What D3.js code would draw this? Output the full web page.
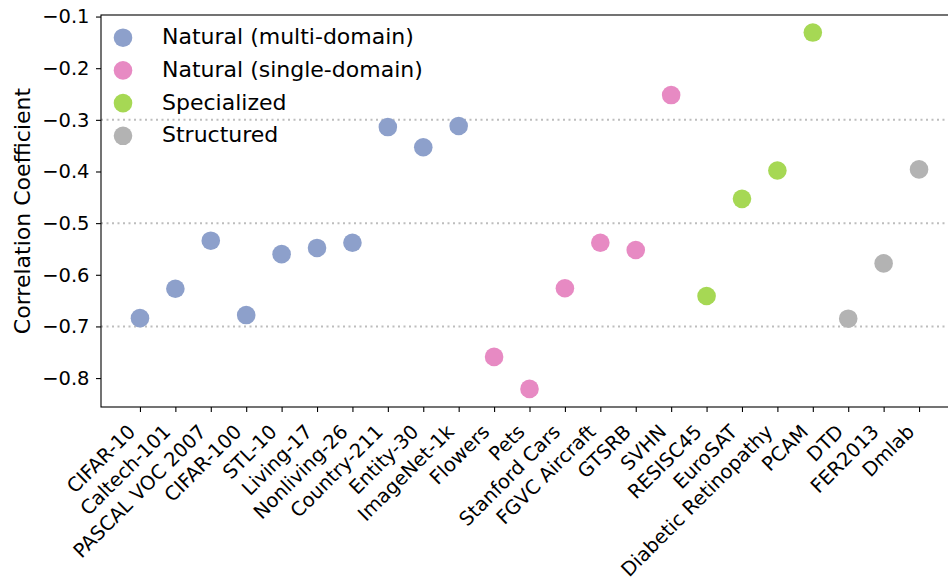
<!DOCTYPE html>
<html>
<head>
<meta charset="utf-8">
<script src="https://cdn.jsdelivr.net/npm/d3@7"></script>
<style>
  html, body { margin: 0; padding: 0; background: #fff; }
  svg { display: block; font-family: "DejaVu Sans", sans-serif; }
</style>
</head>
<body>
<svg id="chart" width="948" height="584"></svg>
<script>
const categories = ["CIFAR-10","Caltech-101","PASCAL VOC 2007","CIFAR-100","STL-10","Living-17","Nonliving-26","Country-211","Entity-30","ImageNet-1k","Flowers","Pets","Stanford Cars","FGVC Aircraft","GTSRB","SVHN","RESISC45","EuroSAT","Diabetic Retinopathy","PCAM","DTD","FER2013","Dmlab"];
const values = [-0.684,-0.627,-0.534,-0.678,-0.560,-0.548,-0.538,-0.314,-0.353,-0.312,-0.759,-0.821,-0.626,-0.538,-0.552,-0.252,-0.641,-0.453,-0.398,-0.131,-0.685,-0.578,-0.396];
const groups = ["Natural (multi-domain)","Natural (multi-domain)","Natural (multi-domain)","Natural (multi-domain)","Natural (multi-domain)","Natural (multi-domain)","Natural (multi-domain)","Natural (multi-domain)","Natural (multi-domain)","Natural (multi-domain)","Natural (single-domain)","Natural (single-domain)","Natural (single-domain)","Natural (single-domain)","Natural (single-domain)","Natural (single-domain)","Specialized","Specialized","Specialized","Specialized","Structured","Structured","Structured"];
const groupNames = ["Natural (multi-domain)","Natural (single-domain)","Specialized","Structured"];
const groupColors = ["#8da0cb","#e78ac3","#a6d854","#b3b3b3"];
const yTicks = [-0.8,-0.7,-0.6,-0.5,-0.4,-0.3,-0.2,-0.1];
const gridValues = [-0.3,-0.5,-0.7];
const yLabel = "Correlation Coefficient";

const svg = d3.select("#chart");
const mLeft = 101, mRight = 958, mTop = 15, mBottom = 407;

const x = d3.scaleLinear().domain([-1.1, categories.length - 1 + 1.1]).range([mLeft, mRight]);
const y = d3.scaleLinear().domain([-0.856, -0.097]).range([mBottom, mTop]);
const color = d3.scaleOrdinal().domain(groupNames).range(groupColors);

// grid
svg.append("g").selectAll("line").data(gridValues).join("line")
  .attr("x1", mLeft).attr("x2", mRight)
  .attr("y1", d => y(d)).attr("y2", d => y(d))
  .attr("stroke", "#bdbdbd").attr("stroke-width", 2)
  .attr("stroke-dasharray", "2,3.5");

// points
svg.append("g").selectAll("circle").data(values).join("circle")
  .attr("cx", (d, i) => x(i))
  .attr("cy", d => y(d))
  .attr("r", 9.3)
  .attr("fill", (d, i) => color(groups[i]));

// frame
svg.append("rect").attr("x", mLeft).attr("y", mTop)
  .attr("width", mRight - mLeft).attr("height", mBottom - mTop)
  .attr("fill", "none").attr("stroke", "#000").attr("stroke-width", 1.1);

// y axis
const yAxis = svg.append("g").attr("transform", `translate(${mLeft},0)`)
  .call(d3.axisLeft(y).tickValues(yTicks).tickSize(5).tickPadding(6.5)
    .tickFormat(d => d3.format(".1f")(d).replace("-", "\u2212")));
yAxis.select(".domain").remove();
yAxis.selectAll("line").attr("stroke", "#000").attr("stroke-width", 1.1);
yAxis.selectAll("text").attr("font-size", 19.5).attr("fill", "#000")
  .attr("font-family", "DejaVu Sans");

// x axis
const xAxis = svg.append("g").attr("transform", `translate(0,${mBottom})`)
  .call(d3.axisBottom(x).tickValues(d3.range(categories.length)).tickSize(5)
    .tickFormat(i => categories[i]));
xAxis.select(".domain").remove();
xAxis.selectAll("line").attr("stroke", "#000").attr("stroke-width", 1.1);
xAxis.selectAll("text")
  .attr("font-size", 19.5).attr("fill", "#000").attr("font-family", "DejaVu Sans")
  .attr("text-anchor", "end")
  .attr("dy", null).attr("y", null)
  .attr("transform", "translate(-4,26) rotate(-45)");

// y label
svg.append("text")
  .attr("transform", `translate(29.5,${(mTop + mBottom) / 2}) rotate(-90)`)
  .attr("text-anchor", "middle")
  .attr("font-size", 22).attr("fill", "#000")
  .text(yLabel);

// legend
const leg = svg.append("g");
groupNames.forEach((g, i) => {
  const cy = 37.7 + i * 32.7;
  leg.append("circle").attr("cx", 123).attr("cy", cy).attr("r", 9.3).attr("fill", color(g));
  leg.append("text").attr("x", 162).attr("y", cy + 6.5)
    .attr("font-size", 22).attr("fill", "#000").text(g);
});
</script>
</body>
</html>
